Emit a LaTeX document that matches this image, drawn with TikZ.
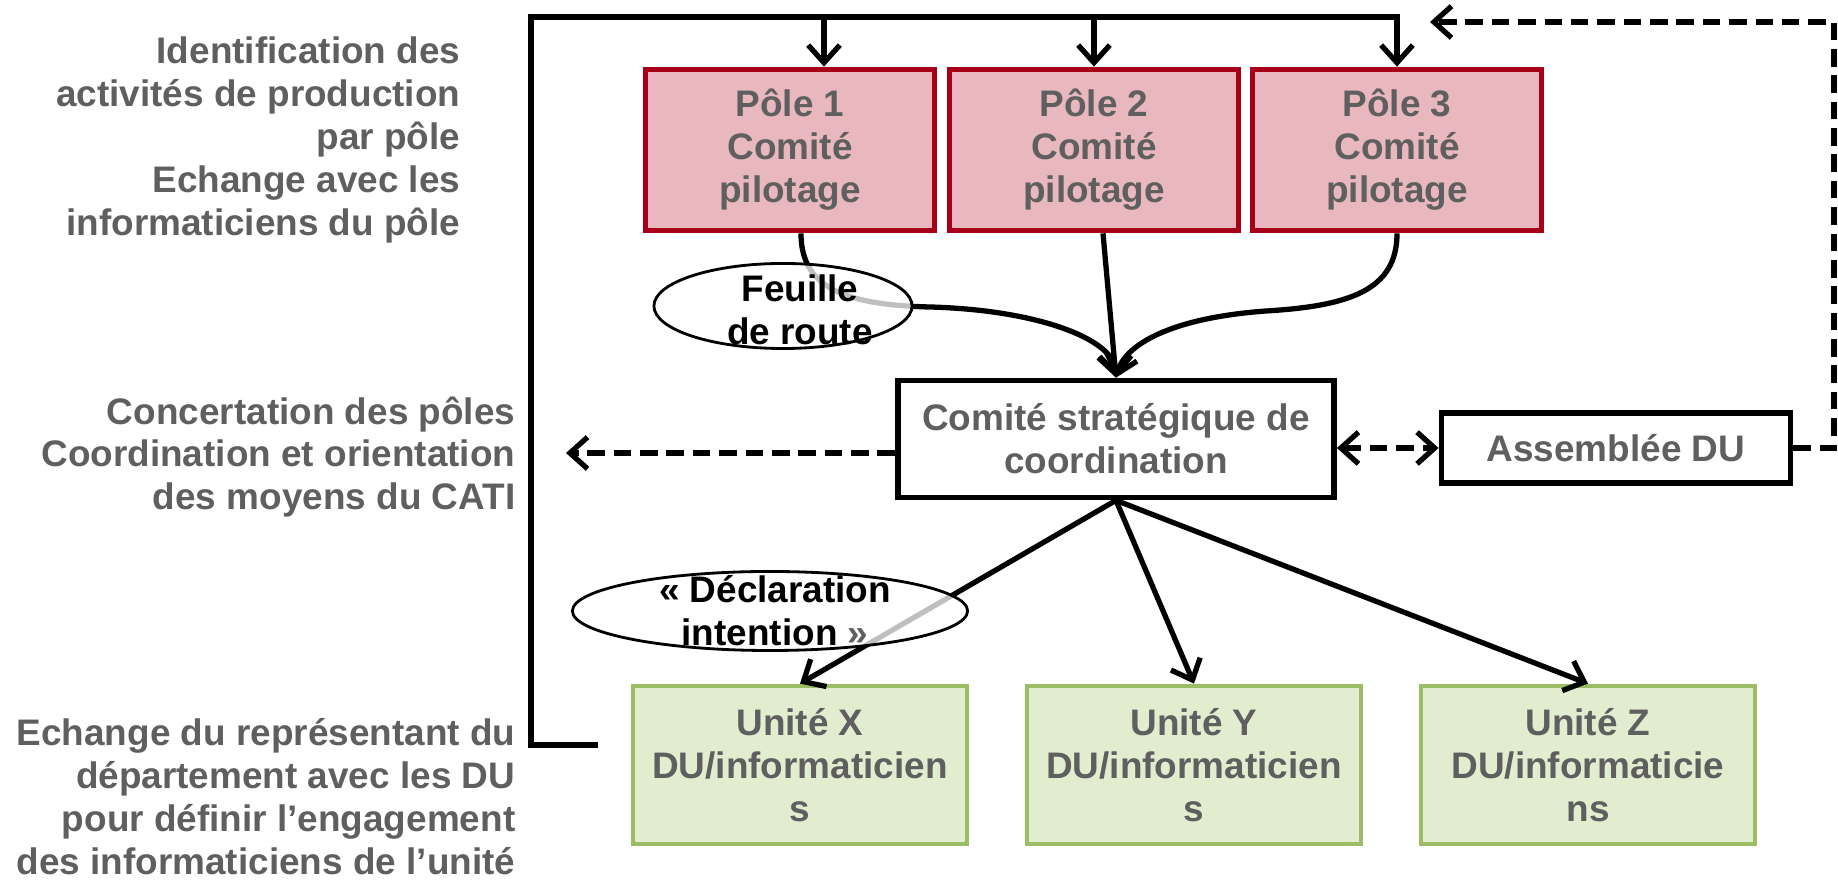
\documentclass[tikz,border=0pt]{standalone}
\usepackage{fontspec}
\setmainfont{Liberation Sans}
\usetikzlibrary{arrows.meta,shapes.geometric,calc}
\definecolor{txtgray}{RGB}{95,95,95}
\definecolor{poleborder}{RGB}{168,0,24}
\definecolor{polefill}{RGB}{232,184,190}
\definecolor{unitborder}{RGB}{155,190,100}
\definecolor{unitfill}{RGB}{226,237,208}
\tikzset{
  box/.style={draw, line width=1.6pt, text=txtgray, align=center, inner sep=0pt},
  polebox/.style={box, draw=poleborder, fill=polefill, minimum width=2.89cm, minimum height=1.61cm},
  unitbox/.style={box, draw=unitborder, line width=1.3pt, fill=unitfill, minimum width=3.34cm, minimum height=1.58cm},
  bubble/.style={ellipse, draw, line width=0.8pt, fill=white, fill opacity=0.75, inner sep=0pt},
  conn/.style={line width=1.5pt},
  dashconn/.style={line width=1.5pt, dash pattern=on 5pt off 2.5pt},
  sidetext/.style={text=txtgray, align=right, anchor=east, inner sep=0pt},
}
\begin{document}
\begin{tikzpicture}[x=0.01cm, y=-0.01cm, >={Straight Barb[length=5pt,width=9pt]},
  font=\fontsize{10.5}{12.2}\selectfont\bfseries]
\useasboundingbox (0,0) rectangle (1838,880);
\node[sidetext] (lbl1) at (461,140) {Identification des\\activités de production\\par pôle\\Echange avec les\\informaticiens du pôle};
\node[sidetext] (lbl2) at (516,457) {Concertation des pôles\\Coordination et orientation\\des moyens du CATI};
\node[sidetext] (lbl3) at (516,797) {Echange du représentant du\\département avec les DU\\pour définir l’engagement\\des informaticiens de l’unité};
\foreach \i/\x in {1/790,2/1094,3/1397}
{
    \node[polebox] (p\i) at (\x,150) {Pôle \i\\Comité\\pilotage};
}
\node[box, minimum width=4.36cm, minimum height=1.17cm] (cs) at (1116,439) {Comité stratégique de\\coordination};
\node[box, minimum width=3.49cm, minimum height=0.70cm] (asm) at (1616,448) {Assemblée DU};
\foreach \n/\x/\a/\b in {X/800/informaticien/s, Y/1194/informaticien/s, Z/1588/informaticie/ns}
{
    \node[unitbox] (u\n) at (\x,765) {Unité \n\\DU/\a\\\b};
}
\coordinate (ret) at (598,745);
\coordinate (corner) at (531,17);
\coordinate (t1) at ($(p1.north)+(34,0)$);
\draw[conn,->] (ret) -| (corner) -| (p3.north);
\draw[conn,->] (corner -| t1) -- (t1);
\draw[conn,->] (corner -| p2.north) -- (p2.north);
\draw[conn,->] ($(p1.south)+(11,0)$) .. controls (801,285) and (840,305) .. (930,307) .. controls (1040,310) and (1115,340) .. (cs.north);
\draw[conn,->] ($(p2.south)+(9,0)$) -- (cs.north);
\draw[conn,->] (p3.south) .. controls (1397,290) and (1350,306) .. (1266,311) .. controls (1170,318) and (1125,345) .. (cs.north);
\foreach \n in {X,Y,Z}
{
    \draw[conn,->] (cs.south) -- (u\n.north);
}
\coordinate (lend) at (566,453);
\coordinate (fbtop) at (1834,22);
\coordinate (fbend) at (1430,22);
\draw[dashconn,->] (cs.west |- lend) -- (lend);
\draw[dashconn,<->] (cs.east |- asm.west) -- (asm.west);
\draw[dashconn,->] (asm.east) -| (fbtop) -- (fbend);
\node[bubble, minimum width=2.58cm, minimum height=0.85cm] (fdr) at (783,306) {};
\node[align=center] (fdrtxt) at (800,310) {Feuille\\de route};
\node[bubble, minimum width=3.95cm, minimum height=0.79cm] (decl) at (770,611) {};
\node[align=center] (decltxt) at (775,611) {« Déclaration\\intention {\color{txtgray}»}};
\end{tikzpicture}
\end{document}
